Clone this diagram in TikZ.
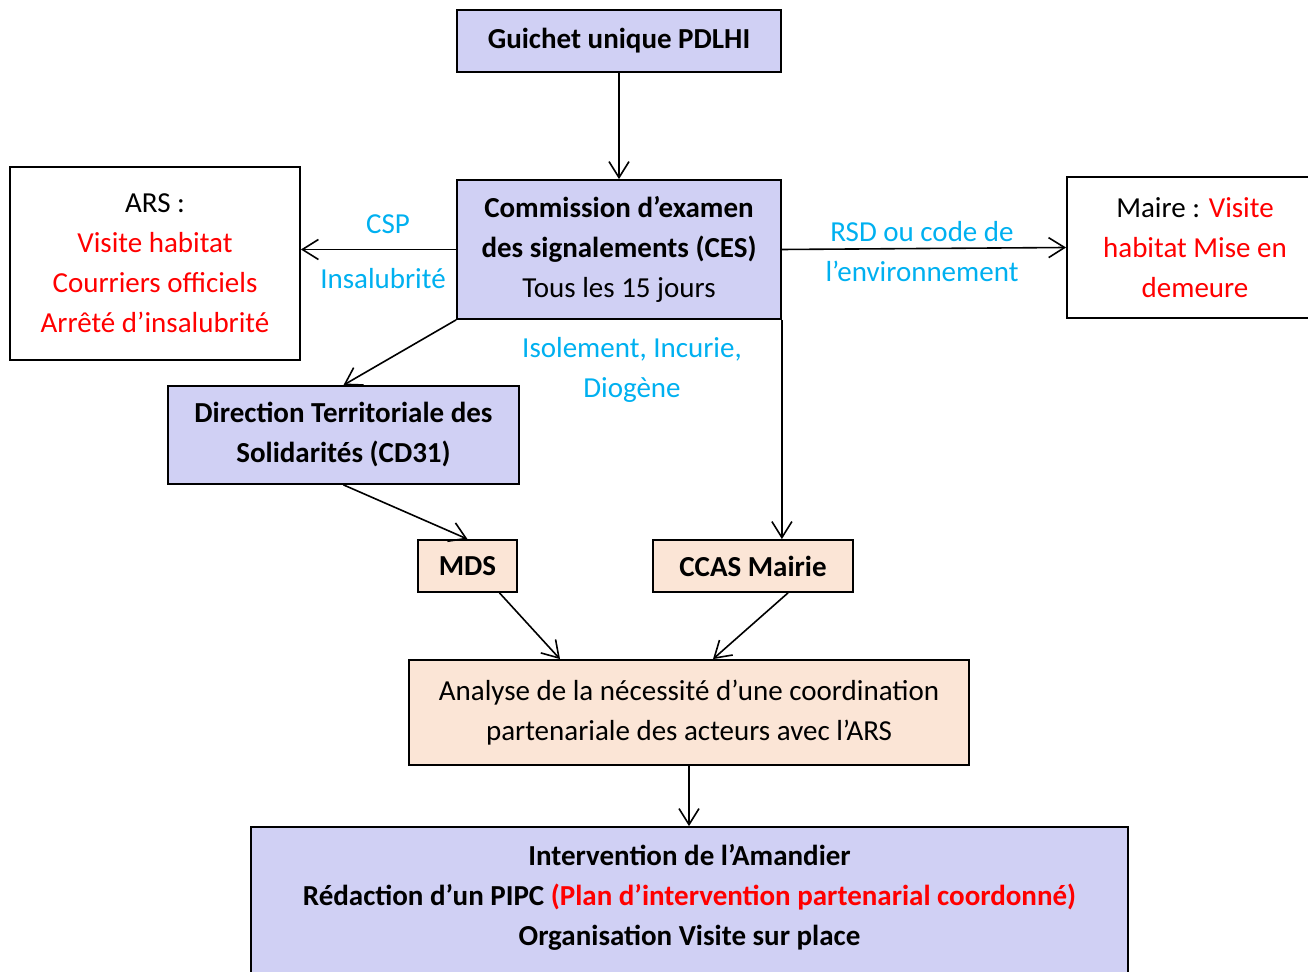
\documentclass[tikz,border=0pt]{standalone}
\usepackage{fontspec}
\setmainfont{Carlito}
\usetikzlibrary{arrows.meta}
\definecolor{lavande}{RGB}{208,208,244}
\definecolor{peche}{RGB}{251,229,214}
\definecolor{bleuclair}{RGB}{0,176,240}
\definecolor{rouge}{RGB}{255,0,0}
\begin{document}
\begin{tikzpicture}[x=0.5pt,y=-0.5pt,
  font=\fontsize{14.5}{20}\selectfont,
  boite/.style={draw,line width=0.9pt,inner sep=0pt,align=center},
  bleue/.style={boite,fill=lavande},
  peche/.style={boite,fill=peche},
  fl/.style={-{Straight Barb[length=8pt,width=10pt]},line width=0.8pt},
  lbl/.style={text=bleuclair,align=center}]
\useasboundingbox (0,0) rectangle (1308,972);
\clip (0,0) rectangle (1308,972);
% boites
\node[bleue,minimum width=162pt,minimum height=31pt] (guichet) at (619,41) {\textbf{Guichet unique PDLHI}};
\node[bleue,minimum width=162pt,minimum height=69.5pt] (ces) at (619,249.5) {\textbf{Commission d’examen}\\\textbf{des signalements (CES)}\\Tous les 15 jours};
\node[boite,minimum width=145pt,minimum height=96.5pt] (ars) at (155,263.5) {ARS :\\\textcolor{rouge}{Visite habitat}\\\textcolor{rouge}{Courriers officiels}\\\textcolor{rouge}{Arrêté d’insalubrité}};
\node[boite,minimum width=128pt,minimum height=70.5pt] (maire) at (1195,247.5) {Maire : \textcolor{rouge}{Visite}\\\textcolor{rouge}{habitat Mise en}\\\textcolor{rouge}{demeure}};
\node[bleue,minimum width=175.5pt,minimum height=49pt] (dts) at (343.5,435) {\textbf{Direction Territoriale des}\\\textbf{Solidarités (CD31)}};
\node[peche,minimum width=49.5pt,minimum height=26pt] (mds) at (467.5,566) {\textbf{MDS}};
\node[peche,minimum width=100pt,minimum height=26pt] (ccas) at (753,566) {\textbf{CCAS Mairie}};
\node[peche,minimum width=280pt,minimum height=52.5pt] (analyse) at (689,712.5) {Analyse de la nécessité d’une coordination\\partenariale des acteurs avec l’ARS};
\node[bleue,minimum width=438.5pt,minimum height=173pt] (interv) at (689.5,1000) {};
\node[align=center,font=\fontsize{14.5}{20}\selectfont\bfseries] (intervtxt) at (689.5,897.5) {Intervention de l’Amandier\\Rédaction d’un PIPC \textcolor{rouge}{(Plan d’intervention partenarial coordonné)}\\Organisation Visite sur place};
% etiquettes
\node[lbl] (csp) at (388,224) {CSP};
\node[lbl] (insal) at (383,279) {Insalubrité};
\node[lbl] (rsd) at (922,252) {RSD ou code de\\l’environnement};
\node[lbl] (isol) at (632,370) {Isolement, Incurie,\\Diogène};
% fleches
\draw[fl] (guichet) -- (ces);
\draw[fl] (ces.west) -- (ces.west -| ars.east);
\draw[fl] (ces.east) -- (maire.west);
\draw[fl] (ces.south west) -- (dts.north);
\draw[fl] (ces.south east) -- (ces.south east |- ccas.north);
\draw[fl] (dts.south) -- (mds.north);
\draw[fl] ([xshift=16pt]mds.south) -- ([xshift=-64.5pt]analyse.north);
\draw[fl] ([xshift=17.5pt]ccas.south) -- ([xshift=12pt]analyse.north);
\draw[fl] (analyse.south) -- (analyse.south |- interv.north);
\end{tikzpicture}
\end{document}
